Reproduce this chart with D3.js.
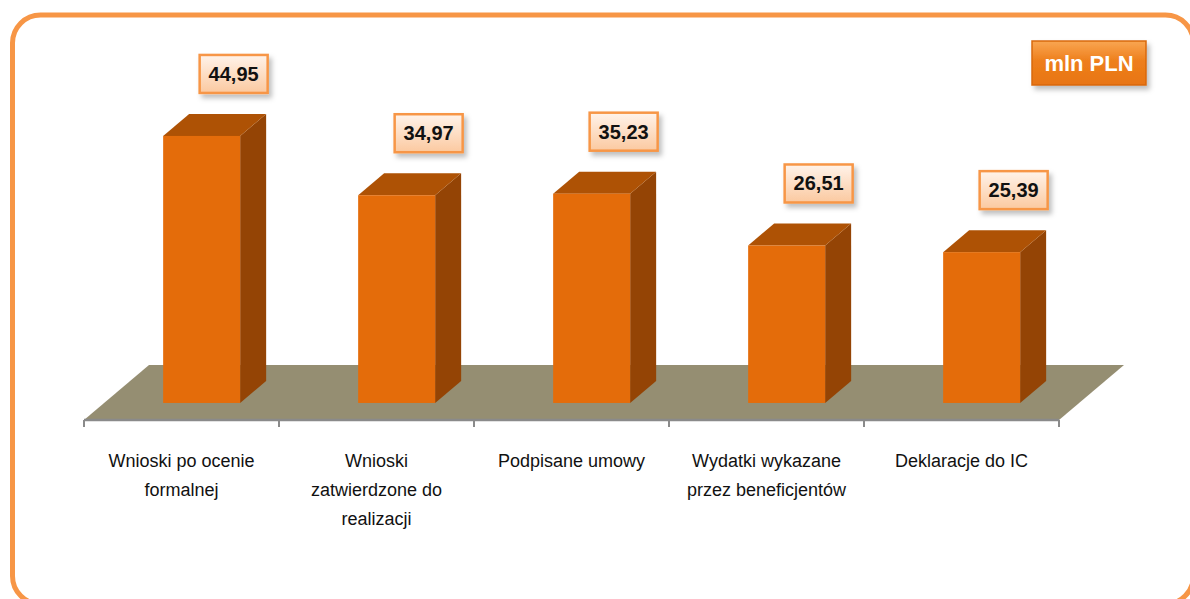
<!DOCTYPE html>
<html>
<head>
<meta charset="utf-8">
<script src="https://cdn.jsdelivr.net/npm/d3@7"></script>
<style>
  body { margin: 0; background: #fff; }
  svg { display: block; }
</style>
</head>
<body>
<svg id="chart" width="1190" height="599"></svg>
<script>
// data
var categories = ["c1", "c2", "c3", "c4", "c5"];
var categoryLabels = [
    ["Wnioski po ocenie", "formalnej"],
    ["Wnioski", "zatwierdzone do", "realizacji"],
    ["Podpisane umowy"],
    ["Wydatki wykazane", "przez beneficjentów"],
    ["Deklaracje do IC"]
];
var values = [44.95, 34.97, 35.23, 26.51, 25.39];
var unitLabel = "mln PLN";

var width = 1190;
var height = 599;

var svg = d3.select("#chart");

// floor: front edge y, depth vector
var floorY = 420;
var depth = { x: 65, y: -55 };
var barFront = 0.31;   // fraction of floor depth where bar front face sits
var barDepth = 0.40;   // bar depth as fraction of floor depth

var xScale = d3.scaleBand()
    .domain(categories)
    .range([84, 1059]);

var barWidth = 77;

// value scale measured on the bar front plane
var baseY = floorY + depth.y * barFront;
var yScale = d3.scaleLinear()
    .domain([0, 50])
    .range([baseY, baseY - 297]);

var defs = svg.append("defs");

var shadow = defs.append("filter")
    .attr("id", "shadow")
    .attr("x", "-20%").attr("y", "-20%")
    .attr("width", "150%").attr("height", "160%");
shadow.append("feDropShadow")
    .attr("dx", 3).attr("dy", 4)
    .attr("stdDeviation", 2.5)
    .attr("flood-color", "#000")
    .attr("flood-opacity", 0.25);

var peach = defs.append("linearGradient")
    .attr("id", "peach")
    .attr("x1", 0).attr("y1", 0).attr("x2", 0).attr("y2", 1);
peach.append("stop").attr("offset", "0%").attr("stop-color", "#fff3ea");
peach.append("stop").attr("offset", "100%").attr("stop-color", "#fbc9a0");

var orange = defs.append("linearGradient")
    .attr("id", "orangeFill")
    .attr("x1", 0).attr("y1", 0).attr("x2", 0).attr("y2", 1);
orange.append("stop").attr("offset", "0%").attr("stop-color", "#f9a652");
orange.append("stop").attr("offset", "45%").attr("stop-color", "#ee7f1c");
orange.append("stop").attr("offset", "100%").attr("stop-color", "#e87513");

// outer rounded frame (right and bottom edges run off the picture)
svg.append("rect")
    .attr("x", 12.5)
    .attr("y", 15)
    .attr("width", 1181)
    .attr("height", 589)
    .attr("rx", 28)
    .style("fill", "none")
    .style("stroke", "#f79646")
    .style("stroke-width", 5);

// floor
var x0 = xScale.range()[0];
var x1 = xScale.range()[1];
var floor = d3.path();
floor.moveTo(x0, floorY);
floor.lineTo(x0 + depth.x, floorY + depth.y);
floor.lineTo(x1 + depth.x, floorY + depth.y);
floor.lineTo(x1, floorY);
floor.closePath();
svg.append("path")
    .attr("d", floor)
    .style("fill", "#958e72");

svg.append("line")
    .attr("x1", x0).attr("x2", x1)
    .attr("y1", floorY).attr("y2", floorY)
    .style("stroke", "#8a8a8a")
    .style("stroke-width", 2.5);

// category ticks
var tickPos = categories.map(function (c) { return xScale(c); }).concat([x1]);
svg.selectAll("line.tick")
    .data(tickPos)
    .enter()
    .append("line")
    .attr("class", "tick")
    .attr("x1", function (d) { return d; })
    .attr("x2", function (d) { return d; })
    .attr("y1", floorY)
    .attr("y2", floorY + 7)
    .style("stroke", "#8a8a8a")
    .style("stroke-width", 2);

// bars
var dx = depth.x * barDepth;
var dy = depth.y * barDepth;
var bars = svg.append("g").attr("id", "bars");

values.forEach(function (v, i) {
    var cx = xScale(categories[i]) + xScale.bandwidth() / 2 + depth.x * barFront;
    var left = cx - barWidth / 2;
    var right = cx + barWidth / 2;
    var top = yScale(v);
    var bottom = yScale(0);

    // side
    var side = d3.path();
    side.moveTo(right, bottom);
    side.lineTo(right + dx, bottom + dy);
    side.lineTo(right + dx, top + dy);
    side.lineTo(right, top);
    side.closePath();
    bars.append("path").attr("d", side).style("fill", "#944405");

    // top
    var topFace = d3.path();
    topFace.moveTo(left, top);
    topFace.lineTo(left + dx, top + dy);
    topFace.lineTo(right + dx, top + dy);
    topFace.lineTo(right, top);
    topFace.closePath();
    bars.append("path").attr("d", topFace).style("fill", "#ae5205");

    // front
    bars.append("rect")
        .attr("x", left)
        .attr("y", top)
        .attr("width", barWidth)
        .attr("height", bottom - top)
        .style("fill", "#e46c0a");
});

// value labels
var labels = svg.append("g").attr("id", "valueLabels");
values.forEach(function (v, i) {
    var cx = xScale(categories[i]) + xScale.bandwidth() / 2 + depth.x * barFront + 32;
    var cy = yScale(v) + dy - 40;
    var g = labels.append("g").attr("transform", "translate(" + cx + "," + cy + ")");
    g.append("rect")
        .attr("x", -34).attr("y", -19)
        .attr("width", 68).attr("height", 38)
        .style("fill", "url(#peach)")
        .style("stroke", "#f79646")
        .style("stroke-width", 2.5)
        .attr("filter", "url(#shadow)");
    g.append("text")
        .attr("text-anchor", "middle")
        .attr("y", 7)
        .style("font-family", "'Liberation Sans', Arial, sans-serif")
        .style("font-weight", "bold")
        .style("font-size", "20px")
        .style("fill", "#111")
        .text(v.toFixed(2).replace(".", ","));
});

// category labels
var catG = svg.append("g").attr("id", "categoryLabels");
categoryLabels.forEach(function (lines, i) {
    var cx = xScale(categories[i]) + xScale.bandwidth() / 2;
    var t = catG.append("text")
        .attr("text-anchor", "middle")
        .style("font-family", "'Liberation Sans', Arial, sans-serif")
        .style("font-size", "18px")
        .style("fill", "#111");
    lines.forEach(function (line, j) {
        t.append("tspan")
            .attr("x", cx)
            .attr("y", 467 + j * 29)
            .text(line);
    });
});

// unit badge
var unit = svg.append("g").attr("transform", "translate(1089,63)");
unit.append("rect")
    .attr("x", -57).attr("y", -22)
    .attr("width", 114).attr("height", 44)
    .style("fill", "url(#orangeFill)")
    .style("stroke", "#d8690c")
    .style("stroke-width", 1.5)
    .attr("filter", "url(#shadow)");
unit.append("text")
    .attr("text-anchor", "middle")
    .attr("y", 8)
    .style("font-family", "'Liberation Sans', Arial, sans-serif")
    .style("font-weight", "bold")
    .style("font-size", "22px")
    .style("fill", "#fff")
    .text(unitLabel);
</script>
</body>
</html>
